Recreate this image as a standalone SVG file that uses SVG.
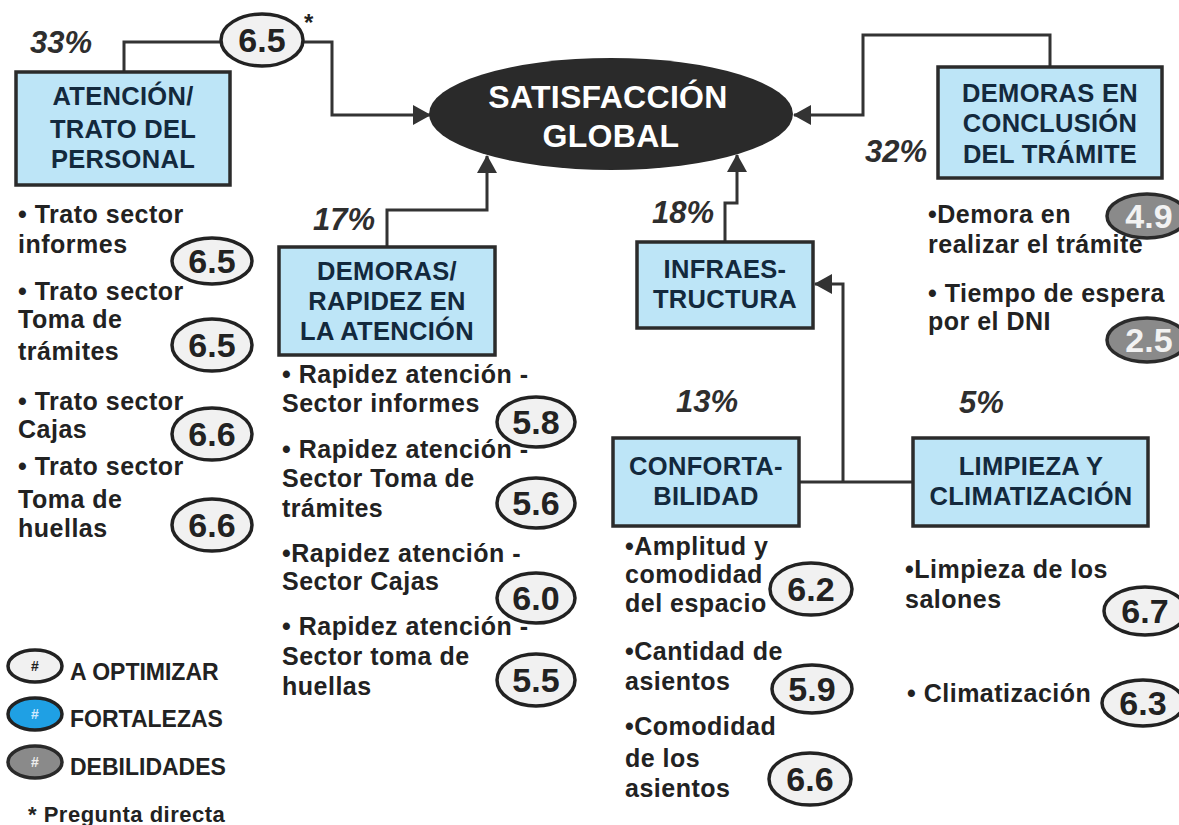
<svg xmlns="http://www.w3.org/2000/svg" width="1179" height="825" viewBox="0 0 1179 825">
<defs>
<marker id="arr" viewBox="0 0 18 20" refX="17" refY="10" markerWidth="18" markerHeight="20" markerUnits="userSpaceOnUse" orient="auto">
<path d="M0,0 L18,10 L0,20 z" fill="#333"/>
</marker>
<style>
text{font-family:"Liberation Sans",Arial,sans-serif;font-weight:bold}
.box{fill:#bde5f7;stroke:#2b2b2b;stroke-width:3.5}
.bt{font-size:25.5px;letter-spacing:0.3px;fill:#13293d;text-anchor:middle}
.bul{font-size:25px;letter-spacing:0.5px;fill:#222}
.pct{font-size:31px;font-style:italic;fill:#2e2e2e}
.eo{fill:#f1f1f1;stroke:#222;stroke-width:3.5}
.ed{fill:#8a8a8a;stroke:#2a2a2a;stroke-width:3.5}
.ev{font-size:34px;fill:#222;text-anchor:middle}
.evd{font-size:34px;fill:#f2f2f2;text-anchor:middle}
.conn{fill:none;stroke:#333;stroke-width:3}
.lg{font-size:23px;fill:#222}
.hash{font-size:14px;text-anchor:middle}
</style>
</defs>
<rect width="1179" height="825" fill="#fff"/>

<g id="connectors">
<path class="conn" d="M124,72 V42 H221"/>
<path class="conn" d="M303,42 H332 V115 H430" marker-end="url(#arr)"/>
<path class="conn" d="M1050,67 V35 H863 V115 H794" marker-end="url(#arr)"/>
<path class="conn" d="M387,247 V210 H487 V156" marker-end="url(#arr)"/>
<path class="conn" d="M725,242 V203 H737 V155" marker-end="url(#arr)"/>
<path class="conn" d="M799,482 H913"/>
<path class="conn" d="M843,482 V284 H815" marker-end="url(#arr)"/>
</g>

<g id="satisfaccion-global">
<ellipse cx="611" cy="114" rx="182" ry="56" fill="#2a2a2a"/>
<text x="608" y="108" font-size="32" letter-spacing="0.3" fill="#fff" text-anchor="middle">SATISFACCIÓN</text>
<text x="611" y="147" font-size="32" letter-spacing="0.3" fill="#fff" text-anchor="middle">GLOBAL</text>
</g>

<g id="pregunta-directa-score">
<ellipse class="eo" cx="262" cy="40" rx="41" ry="26"/>
<text class="ev" x="262" y="52">6.5</text>
<text x="304" y="31" font-size="24" fill="#222">*</text>
</g>

<g id="atencion-trato">
<text class="pct" x="30" y="53">33%</text>
<rect class="box" x="16" y="72" width="214" height="113"/>
<text class="bt" x="123" y="105">ATENCIÓN/</text>
<text class="bt" x="123" y="138">TRATO DEL</text>
<text class="bt" x="123" y="168">PERSONAL</text>
</g>

<g id="atencion-items">
<text class="bul" x="18" y="223">• Trato sector</text>
<text class="bul" x="18" y="253">informes</text>
<ellipse class="eo" cx="212" cy="261" rx="40" ry="23"/>
<text class="ev" x="212" y="273">6.5</text>
<text class="bul" x="18" y="300">• Trato sector</text>
<text class="bul" x="18" y="328">Toma de</text>
<text class="bul" x="18" y="360">trámites</text>
<ellipse class="eo" cx="212" cy="345" rx="40" ry="26"/>
<text class="ev" x="212" y="357">6.5</text>
<text class="bul" x="18" y="410">• Trato sector</text>
<text class="bul" x="18" y="438">Cajas</text>
<ellipse class="eo" cx="212" cy="434" rx="40" ry="26"/>
<text class="ev" x="212" y="446">6.6</text>
<text class="bul" x="18" y="475">• Trato sector</text>
<text class="bul" x="18" y="508">Toma de</text>
<text class="bul" x="18" y="537">huellas</text>
<ellipse class="eo" cx="212" cy="525" rx="40" ry="26"/>
<text class="ev" x="212" y="537">6.6</text>
</g>

<g id="demoras-rapidez">
<text class="pct" x="313" y="230">17%</text>
<rect class="box" x="279" y="247" width="216" height="108"/>
<text class="bt" x="387" y="280">DEMORAS/</text>
<text class="bt" x="387" y="310">RAPIDEZ EN</text>
<text class="bt" x="387" y="340">LA ATENCIÓN</text>
</g>

<g id="rapidez-items">
<text class="bul" x="282" y="383">• Rapidez atención -</text>
<text class="bul" x="282" y="412">Sector informes</text>
<ellipse class="eo" cx="536" cy="422" rx="39" ry="25"/>
<text class="ev" x="536" y="434">5.8</text>
<text class="bul" x="282" y="458">• Rapidez atención -</text>
<text class="bul" x="282" y="487">Sector Toma de</text>
<text class="bul" x="282" y="517">trámites</text>
<ellipse class="eo" cx="536" cy="503" rx="39" ry="25"/>
<text class="ev" x="536" y="515">5.6</text>
<text class="bul" x="282" y="562">•Rapidez atención -</text>
<text class="bul" x="282" y="590">Sector Cajas</text>
<ellipse class="eo" cx="536" cy="598" rx="39" ry="25"/>
<text class="ev" x="536" y="610">6.0</text>
<text class="bul" x="282" y="635">• Rapidez atención -</text>
<text class="bul" x="282" y="665">Sector toma de</text>
<text class="bul" x="282" y="695">huellas</text>
<ellipse class="eo" cx="536" cy="680" rx="39" ry="26"/>
<text class="ev" x="536" y="692">5.5</text>
</g>

<g id="infraestructura">
<text class="pct" x="652" y="223">18%</text>
<rect class="box" x="637" y="242" width="176" height="86"/>
<text class="bt" x="725" y="278">INFRAES-</text>
<text class="bt" x="725" y="308">TRUCTURA</text>
</g>

<g id="demoras-conclusion">
<text class="pct" x="865" y="162">32%</text>
<rect class="box" x="938" y="67" width="224" height="111"/>
<text class="bt" x="1050" y="102">DEMORAS EN</text>
<text class="bt" x="1050" y="132">CONCLUSIÓN</text>
<text class="bt" x="1050" y="163">DEL TRÁMITE</text>
</g>

<g id="conclusion-items">
<text class="bul" x="928" y="223">•Demora en</text>
<text class="bul" x="928" y="253">realizar el trámite</text>
<ellipse class="ed" cx="1147" cy="216" rx="40" ry="22"/>
<text class="evd" x="1149" y="228">4.9</text>
<text class="bul" x="928" y="302">• Tiempo de espera</text>
<text class="bul" x="928" y="330">por el DNI</text>
<ellipse class="ed" cx="1147" cy="340" rx="40" ry="22"/>
<text class="evd" x="1149" y="352">2.5</text>
</g>

<g id="confortabilidad">
<text class="pct" x="676" y="412">13%</text>
<rect class="box" x="613" y="438" width="186" height="88"/>
<text class="bt" x="706" y="475">CONFORTA-</text>
<text class="bt" x="706" y="505">BILIDAD</text>
</g>

<g id="confort-items">
<text class="bul" x="625" y="555">•Amplitud y</text>
<text class="bul" x="625" y="583">comodidad</text>
<text class="bul" x="625" y="612">del espacio</text>
<ellipse class="eo" cx="811" cy="589" rx="41" ry="26"/>
<text class="ev" x="811" y="601">6.2</text>
<text class="bul" x="625" y="660">•Cantidad de</text>
<text class="bul" x="625" y="690">asientos</text>
<ellipse class="eo" cx="812" cy="689" rx="40" ry="24"/>
<text class="ev" x="812" y="701">5.9</text>
<text class="bul" x="625" y="735">•Comodidad</text>
<text class="bul" x="625" y="767">de los</text>
<text class="bul" x="625" y="797">asientos</text>
<ellipse class="eo" cx="810" cy="779" rx="41" ry="26"/>
<text class="ev" x="810" y="791">6.6</text>
</g>

<g id="limpieza-climatizacion">
<text class="pct" x="959" y="413">5%</text>
<rect class="box" x="913" y="438" width="235" height="88"/>
<text class="bt" x="1031" y="475">LIMPIEZA Y</text>
<text class="bt" x="1031" y="505">CLIMATIZACIÓN</text>
</g>

<g id="limpieza-items">
<text class="bul" x="905" y="578">•Limpieza de los</text>
<text class="bul" x="905" y="608">salones</text>
<ellipse class="eo" cx="1145" cy="611" rx="41" ry="24"/>
<text class="ev" x="1145" y="623">6.7</text>
<text class="bul" x="907" y="702">• Climatización</text>
<ellipse class="eo" cx="1143" cy="703" rx="41" ry="23"/>
<text class="ev" x="1143" y="715">6.3</text>
</g>

<g id="legend">
<ellipse class="eo" cx="35" cy="666" rx="27" ry="16"/>
<text class="hash" x="35" y="671" fill="#222">#</text>
<text class="lg" x="70" y="680">A OPTIMIZAR</text>
<ellipse cx="35" cy="714" rx="27" ry="16" fill="#1fa0e4" stroke="#222" stroke-width="3.5"/>
<text class="hash" x="35" y="719" fill="#cfeaff">#</text>
<text class="lg" x="70" y="727">FORTALEZAS</text>
<ellipse class="ed" cx="35" cy="762" rx="27" ry="16"/>
<text class="hash" x="35" y="767" fill="#eee">#</text>
<text class="lg" x="70" y="775">DEBILIDADES</text>
<text x="28" y="822" font-size="22" letter-spacing="0.5" fill="#222">* Pregunta directa</text>
</g>
</svg>
